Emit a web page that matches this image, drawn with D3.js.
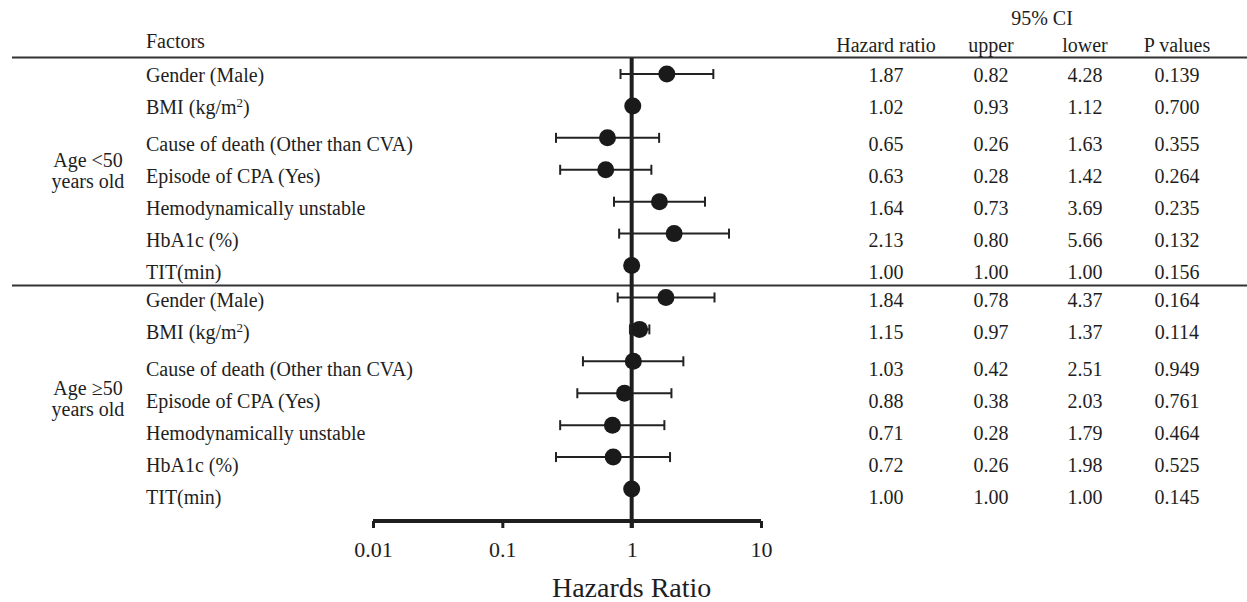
<!DOCTYPE html>
<html><head><meta charset="utf-8">
<script src="https://cdn.jsdelivr.net/npm/d3@7"></script>
<style>html,body{margin:0;padding:0;background:#fff;}svg{display:block;font-family:"Liberation Serif","Times New Roman",serif;}</style>
</head><body>
<svg id="c" width="1247" height="602"></svg>
<script>
const groups = ["Age <50|years old", "Age \u226550|years old"];
const factors = ["Gender (Male)", "BMI (kg/m2)", "Cause of death (Other than CVA)", "Episode of CPA (Yes)", "Hemodynamically unstable", "HbA1c (%)", "TIT(min)"];
const hr1 = [1.87, 1.02, 0.65, 0.63, 1.64, 2.13, 1.00];
const ciA1 = [0.82, 0.93, 0.26, 0.28, 0.73, 0.80, 1.00];
const ciB1 = [4.28, 1.12, 1.63, 1.42, 3.69, 5.66, 1.00];
const p1 = ["0.139", "0.700", "0.355", "0.264", "0.235", "0.132", "0.156"];
const hr2 = [1.84, 1.15, 1.03, 0.88, 0.71, 0.72, 1.00];
const ciA2 = [0.78, 0.97, 0.42, 0.38, 0.28, 0.26, 1.00];
const ciB2 = [4.37, 1.37, 2.51, 2.03, 1.79, 1.98, 1.00];
const p2 = ["0.164", "0.114", "0.949", "0.761", "0.464", "0.525", "0.145"];
const tickValues = [0.01, 0.1, 1, 10];
const headers = ["Hazard ratio", "upper", "lower", "P values"];

const rows = [];
[[hr1, ciA1, ciB1, p1], [hr2, ciA2, ciB2, p2]].forEach((g, gi) => {
  factors.forEach((f, i) => rows.push({g: gi, i, f, hr: g[0][i], lo: g[1][i], hi: g[2][i], p: g[3][i]}));
});

const svg = d3.select("#c");
const ink = "#1e1e1e";
const x = d3.scaleLog().domain([0.01, 10]).range([373, 761]);
const y = d3.scalePoint().domain(d3.range(rows.length)).range([74, 489]);
const textY = (d, k) => y(k) + (d.i < 2 ? 1 : 6) + (d.g === 1 ? 2 : 0);
const fmt2 = d3.format(".2f");

// table rules
const midY = (y(6) + y(7)) / 2 + 4;
svg.append("line").attr("x1", 12).attr("x2", 1247).attr("y1", 57.5).attr("y2", 57.5).attr("stroke", "#333").attr("stroke-width", 2);
svg.append("line").attr("x1", 12).attr("x2", 1247).attr("y1", midY).attr("y2", midY).attr("stroke", "#333").attr("stroke-width", 2);

// headers
svg.append("text").attr("x", 146).attr("y", 48).attr("font-size", 20).attr("fill", ink).text("Factors");
const colX = [886, 991, 1085, 1177];
svg.append("text").attr("x", 1042).attr("y", 25).attr("text-anchor", "middle").attr("font-size", 20).attr("fill", ink).text("95% CI");
headers.forEach((h, j) => svg.append("text").attr("x", colX[j]).attr("y", 52).attr("text-anchor", "middle").attr("font-size", 20).attr("fill", ink).text(h));

// group labels
groups.forEach((g, gi) => {
  const midRow = gi * 7 + 3;
  const t = svg.append("text").attr("x", 88).attr("text-anchor", "middle").attr("font-size", 20).attr("fill", ink);
  g.split("|").forEach((line, li) => t.append("tspan").attr("x", 88).attr("y", y(midRow) + (gi ? 2 : -3) + li * 21).text(line));
});

// factor labels
rows.forEach((d, k) => {
  const t = svg.append("text").attr("x", 146).attr("y", textY(d, k)).attr("dy", "0.35em").attr("font-size", 20).attr("fill", ink);
  if (d.f.includes("m2")) {
    t.append("tspan").text("BMI (kg/m");
    t.append("tspan").attr("font-size", 13).attr("dy", "-0.55em").text("2");
    t.append("tspan").attr("dy", "0.35em").text(")");
  } else t.text(d.f);
  [fmt2(d.hr), fmt2(d.lo), fmt2(d.hi), d.p].forEach((v, j) =>
    svg.append("text").attr("x", colX[j]).attr("y", textY(d, k)).attr("dy", "0.35em").attr("text-anchor", "middle").attr("font-size", 20).attr("fill", ink).text(v));
});

// axis
const axisY = 521;
const ax = svg.append("g").attr("transform", `translate(0,${axisY})`)
  .call(d3.axisBottom(x).tickValues(tickValues).tickSize(7).tickPadding(13).tickFormat(d => String(d)));
ax.select(".domain").attr("d", `M${x(0.01)},0H${x(10)}`).attr("stroke", ink).attr("stroke-width", 4);
ax.selectAll(".tick line").attr("stroke", ink).attr("stroke-width", 3);
ax.selectAll(".tick text").attr("font-size", 22).attr("font-family", "Liberation Serif, serif").attr("fill", ink);
svg.append("text").attr("x", x(1)).attr("y", 597).attr("text-anchor", "middle").attr("font-size", 28).attr("fill", ink).text("Hazards Ratio");

// reference line
svg.append("line").attr("x1", x(1)).attr("x2", x(1)).attr("y1", 58).attr("y2", 528).attr("stroke", ink).attr("stroke-width", 4);

// error bars and points
const eb = svg.append("g").attr("stroke", "#222").attr("stroke-width", 2);
rows.forEach((d, k) => {
  if (d.hi > d.lo) {
    eb.append("line").attr("x1", x(d.lo)).attr("x2", x(d.hi)).attr("y1", y(k)).attr("y2", y(k));
    [d.lo, d.hi].forEach(v => eb.append("line").attr("x1", x(v)).attr("x2", x(v)).attr("y1", y(k) - 5).attr("y2", y(k) + 5));
  }
});
svg.append("g").selectAll("circle").data(rows).join("circle")
  .attr("cx", d => x(d.hr)).attr("cy", (d, k) => y(k)).attr("r", 8.5).attr("fill", "#1a1a1a");
</script>
</body></html>
